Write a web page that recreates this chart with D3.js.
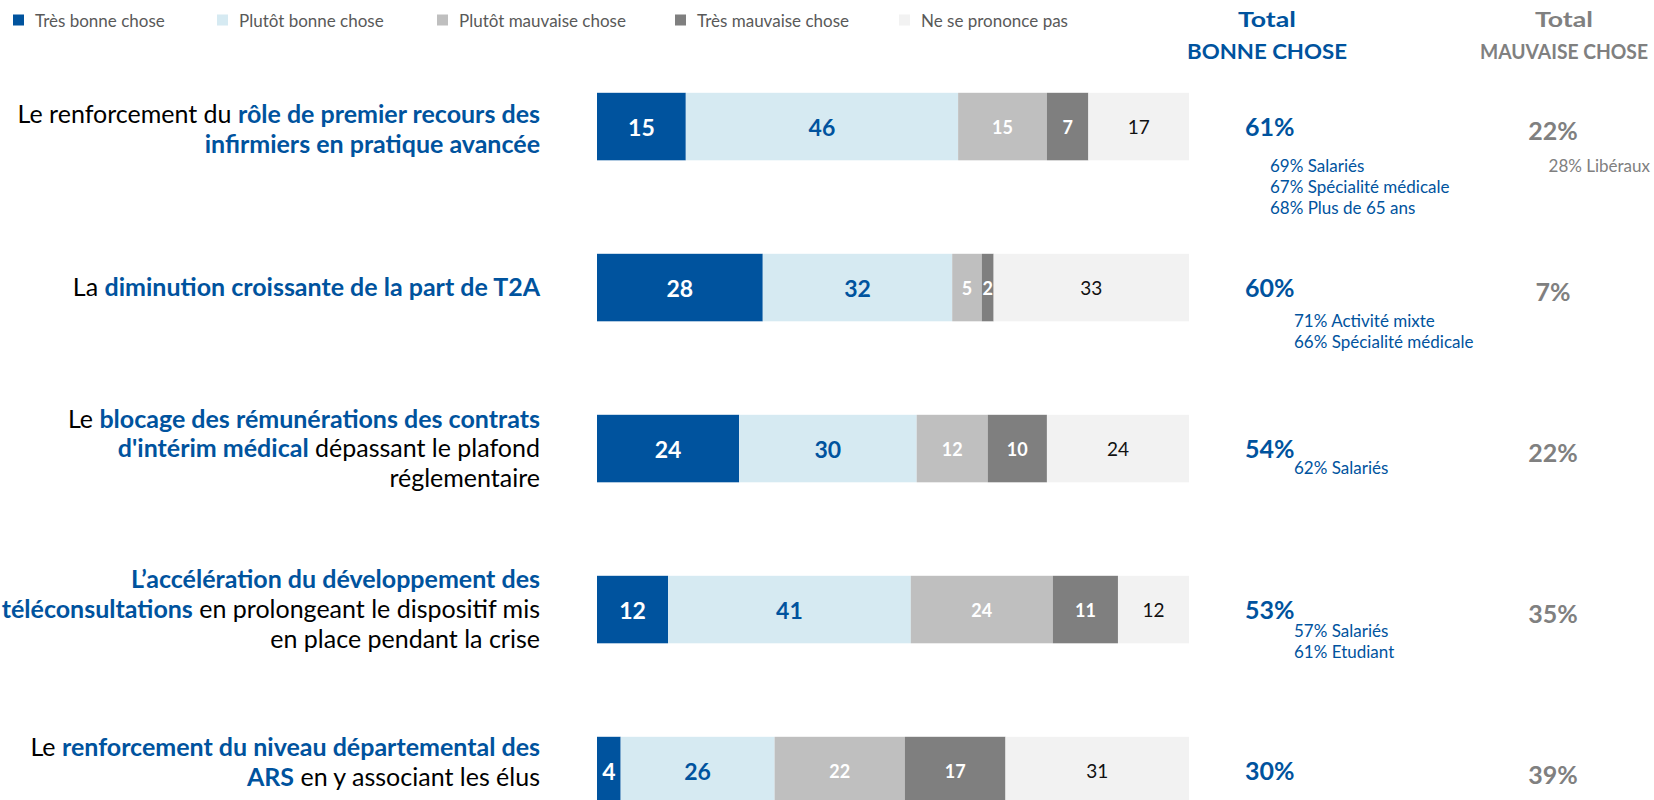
<!DOCTYPE html>
<html><head><meta charset="utf-8">
<script src="https://cdn.jsdelivr.net/npm/d3@7/dist/d3.min.js"></script>
<style>
html,body{margin:0;padding:0;background:#fff;}
svg{display:block;font-family:Lato,"Open Sans",sans-serif;}
</style></head>
<body><svg id="c" width="1654" height="800"></svg>
<script>
// ---------- DATA ----------
const categories = [
  "Le renforcement du rôle de premier recours des infirmiers en pratique avancée",
  "La diminution croissante de la part de T2A",
  "Le blocage des rémunérations des contrats d'intérim médical dépassant le plafond réglementaire",
  "L’accélération du développement des téléconsultations en prolongeant le dispositif mis en place pendant la crise",
  "Le renforcement du niveau départemental des ARS en y associant les élus"
];
// label lines: [text, bold?]
const categoryLines = [
  [[["Le renforcement du ", 0], ["rôle de premier recours des", 1]], [["infirmiers en pratique avancée", 1]]],
  [[["La ", 0], ["diminution croissante de la part de T2A", 1]]],
  [[["Le ", 0], ["blocage des rémunérations des contrats", 1]], [["d'intérim médical", 1], [" dépassant le plafond", 0]], [["réglementaire", 0]]],
  [[["L’accélération du développement des", 1]], [["téléconsultations", 1], [" en prolongeant le dispositif mis", 0]], [["en place pendant la crise", 0]]],
  [[["Le ", 0], ["renforcement du niveau départemental des", 1]], [["ARS", 1], [" en y associant les élus", 0]]]
];
const seriesNames = ["Très bonne chose", "Plutôt bonne chose", "Plutôt mauvaise chose", "Très mauvaise chose", "Ne se prononce pas"];
const tresBonne      = [15, 28, 24, 12, 4];
const plutotBonne    = [46, 32, 30, 41, 26];
const plutotMauvaise = [15, 5, 12, 24, 22];
const tresMauvaise   = [7, 2, 10, 11, 17];
const nspp           = [17, 33, 24, 12, 31];
const totalBonne     = [61, 60, 54, 53, 30];
const totalMauvaise  = [22, 7, 22, 35, 39];
const notesBonne = [
  ["69% Salariés", "67% Spécialité médicale", "68% Plus de 65 ans"],
  ["71% Activité mixte", "66% Spécialité médicale"],
  ["62% Salariés"],
  ["57% Salariés", "61% Etudiant"],
  []
];
const notesMauvaise = [["28% Libéraux"], [], [], [], []];
const headerBonne = ["Total", "BONNE CHOSE"];
const headerMauvaise = ["Total", "MAUVAISE CHOSE"];

// ---------- STYLE / LAYOUT ----------
const colors = ["#00539E", "#D6EAF2", "#BFBFBF", "#7F7F7F", "#F2F2F2"];
const segText = [
  {fill: "#fff", weight: 700, size: 23},
  {fill: "#00539E", weight: 700, size: 23},
  {fill: "#fff", weight: 700, size: 18},
  {fill: "#fff", weight: 700, size: 18},
  {fill: "#111", weight: 400, size: 19}
];
const BLUE = "#00539E", GRAY = "#808080";
const legendX = [13, 217, 437, 675, 899];
const labelOffset = [3, 0, 0, 0, -8];
const noteOffset = [39, 33, 19, 21, 0];
const noteX = [1270, 1294, 1294, 1294, 1294];
// header line widths (to match reference lettering)
const headerW = {"Total": 58, "BONNE CHOSE": 160, "MAUVAISE CHOSE": 168};

const svg = d3.select("#c");
const keys = seriesNames;
const rows = categories.map((c, i) => ({
  cat: c,
  [keys[0]]: tresBonne[i], [keys[1]]: plutotBonne[i], [keys[2]]: plutotMauvaise[i],
  [keys[3]]: tresMauvaise[i], [keys[4]]: nspp[i]
}));
const stacked = d3.stack().keys(keys)(rows);

const x = d3.scaleLinear().domain([0, 100]).range([597, 1189]);
const y = d3.scaleBand().domain(categories).range([92.8, 804.3]).paddingInner(0.5807).paddingOuter(0).align(0);

// bars
stacked.forEach((s, si) => {
  const g = svg.append("g");
  g.selectAll("rect").data(s).join("rect")
    .attr("x", d => x(d[0])).attr("width", d => x(d[1]) - x(d[0]))
    .attr("y", d => y(d.data.cat)).attr("height", y.bandwidth())
    .attr("fill", colors[si]);
  g.selectAll("text").data(s).join("text")
    .attr("x", d => (x(d[0]) + x(d[1])) / 2)
    .attr("y", d => y(d.data.cat) + y.bandwidth() / 2)
    .attr("text-anchor", "middle").attr("dominant-baseline", "central")
    .attr("fill", segText[si].fill).attr("font-weight", segText[si].weight)
    .attr("font-size", segText[si].size)
    .text(d => d[1] - d[0]);
});

// category labels
categories.forEach((c, i) => {
  const lines = categoryLines[i];
  const lh = 29.8;
  const cy = y(c) + y.bandwidth() / 2 + labelOffset[i];
  lines.forEach((ln, li) => {
    const ty = cy + (li - (lines.length - 1) / 2) * lh;
    const t = svg.append("text").attr("text-anchor", "end").attr("font-size", 25)
      .attr("x", 540).attr("y", ty).attr("dy", "0.35em");
    ln.forEach(seg => {
      t.append("tspan").text(seg[0])
        .attr("fill", seg[1] ? BLUE : "#000")
        .attr("font-weight", seg[1] ? 700 : 400);
    });
  });
});

// totals
categories.forEach((c, i) => {
  const cy = y(c) + y.bandwidth() / 2;
  svg.append("text").attr("x", 1245).attr("y", cy - 1).attr("dominant-baseline", "central")
    .attr("fill", BLUE).attr("font-weight", 700).attr("font-size", 25).text(totalBonne[i] + "%");
  svg.append("text").attr("x", 1553).attr("y", cy + 3).attr("dominant-baseline", "central")
    .attr("text-anchor", "middle")
    .attr("fill", GRAY).attr("font-weight", 700).attr("font-size", 25).text(totalMauvaise[i] + "%");
  notesBonne[i].forEach((n, k) => {
    svg.append("text").attr("x", noteX[i]).attr("y", cy + noteOffset[i] + k * 21)
      .attr("dominant-baseline", "central").attr("fill", BLUE).attr("font-size", 17).text(n);
  });
  notesMauvaise[i].forEach((n, k) => {
    svg.append("text").attr("x", 1650).attr("y", cy + noteOffset[i] + k * 21)
      .attr("text-anchor", "end")
      .attr("dominant-baseline", "central").attr("fill", GRAY).attr("font-size", 17).text(n);
  });
});

// headers
[[headerBonne, 1267, BLUE], [headerMauvaise, 1564, GRAY]].forEach(([h, hx, col]) => {
  h.forEach((s, k) => {
    svg.append("text").attr("x", hx).attr("y", 19 + k * 31.5).attr("dominant-baseline", "central")
      .attr("text-anchor", "middle").attr("fill", col).attr("font-weight", 700).attr("font-size", 20)
      .attr("textLength", headerW[s]).attr("lengthAdjust", "spacingAndGlyphs").text(s);
  });
});

// legend
const lg = svg.append("g").selectAll("g").data(seriesNames).join("g")
  .attr("transform", (d, i) => `translate(${legendX[i]},20)`);
lg.append("rect").attr("x", 0).attr("y", -5.5).attr("width", 11).attr("height", 11).attr("fill", (d, i) => colors[i]);
lg.append("text").attr("x", 22).attr("y", 0).attr("dominant-baseline", "central")
  .attr("fill", "#595959").attr("font-size", 17).text(d => d);
</script></body></html>
